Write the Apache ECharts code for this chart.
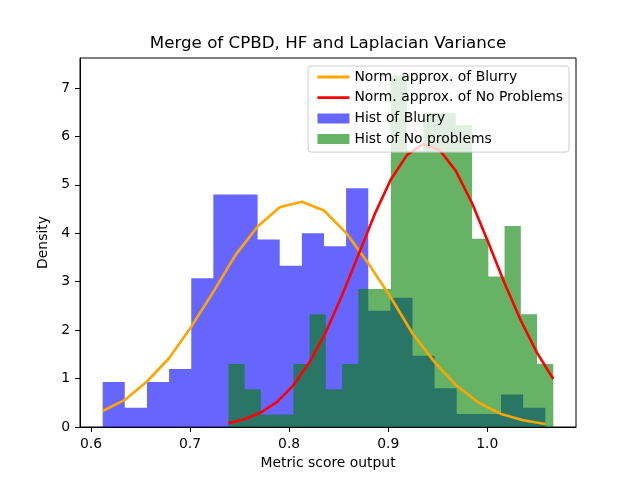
<!DOCTYPE html>
<html>
    <head>
        <meta charset="utf-8">
        <script src="https://cdn.jsdelivr.net/npm/echarts@6.0.0/dist/echarts.min.js"></script>
    </head>
    <body style="margin: 0;">
        <div id="main" style="width: 640px; height: 480px;"></div>
        <script>
            // bin edges and densities
            var blurryEdges = [0.6118, 0.6341, 0.6565, 0.6788, 0.7012, 0.7235, 0.7458, 0.7682, 0.7905, 0.8129, 0.8352,
                0.8575, 0.8799, 0.9022, 0.9246, 0.9469, 0.9692, 0.9916, 1.0139, 1.0363, 1.0586];
            var blurryDensity = [0.93, 0.40, 0.93, 1.20, 3.07, 4.80, 4.80, 3.87, 3.33, 4.00,
                3.73, 4.93, 2.40, 2.67, 1.47, 0.80, 0.27, 0.27, 0.67, 0.40];
            var blurryNorm = [0.33, 0.56, 0.94, 1.42, 2.07, 2.79, 3.55, 4.14, 4.54, 4.65, 4.47,
                4.01, 3.38, 2.69, 1.93, 1.34, 0.85, 0.50, 0.27, 0.14, 0.06];

            var okEdges = [0.7387, 0.7551, 0.7715, 0.7879, 0.8043, 0.8207, 0.8371, 0.8535, 0.8699, 0.8863, 0.9027,
                0.9191, 0.9355, 0.9519, 0.9683, 0.9847, 1.0011, 1.0175, 1.0339, 1.0503, 1.0667];
            var okDensity = [1.30, 0.78, 0.26, 0.26, 1.30, 2.33, 0.78, 1.30, 2.85, 2.85,
                7.26, 5.71, 6.49, 6.49, 6.23, 3.89, 3.11, 4.15, 2.33, 1.30];
            var okNorm = [0.08, 0.16, 0.30, 0.52, 0.86, 1.34, 1.96, 2.72, 3.55, 4.39, 5.11,
                5.62, 5.84, 5.72, 5.29, 4.62, 3.81, 2.97, 2.20, 1.53, 0.99];

            var xTicks = [0.6, 0.7, 0.8, 0.9, 1.0];
            var yTicks = [0, 1, 2, 3, 4, 5, 6, 7];

            var FONT = 'DejaVu Sans';

            function pairs(xs, ys) {
                return xs.map(function (x, i) { return [x, ys[i]]; });
            }
            // step outline: each bin holds its height until the next edge
            function steps(edges, dens) {
                var pts = dens.map(function (d, i) { return [edges[i], d]; });
                pts.push([edges[edges.length - 1], dens[dens.length - 1]]);
                return pts;
            }
            function histSeries(name, edges, dens, color) {
                return {
                    name: name,
                    type: 'line',
                    step: 'end',
                    symbol: 'none',
                    data: steps(edges, dens),
                    itemStyle: { color: color },
                    lineStyle: { width: 0, opacity: 0 },
                    areaStyle: { color: color, opacity: 1 },
                    z: 1
                };
            }
            function normSeries(name, xs, ys, color) {
                return {
                    name: name,
                    type: 'line',
                    symbol: 'none',
                    data: pairs(xs, ys),
                    itemStyle: { color: color },
                    lineStyle: { color: color, width: 2.6 },
                    z: 3
                };
            }

            var chart = echarts.init(document.getElementById('main'));
            var option = {
                animation: false,
                textStyle: { fontFamily: FONT },
                title: {
                    text: 'Merge of CPBD, HF and Laplacian Variance',
                    left: 323,
                    top: 30,
                    textAlign: 'center',
                    textStyle: { fontFamily: FONT, fontSize: 16.7, fontWeight: 'normal', color: '#000' }
                },
                legend: {
                    orient: 'vertical',
                    right: 71,
                    top: 66,
                    padding: [4, 6, 6, 8],
                    itemWidth: 32,
                    itemHeight: 10,
                    itemGap: 6.7,
                    backgroundColor: 'rgba(255,255,255,0.8)',
                    borderColor: '#cccccc',
                    borderWidth: 1,
                    borderRadius: 3,
                    textStyle: { fontFamily: FONT, fontSize: 13.9, color: '#000' },
                    data: [
                        { name: 'Norm. approx. of Blurry', itemStyle: { opacity: 0 }, lineStyle: { width: 2.8 } },
                        { name: 'Norm. approx. of No Problems', itemStyle: { opacity: 0 }, lineStyle: { width: 2.8 } },
                        { name: 'Hist of Blurry', icon: 'rect' },
                        { name: 'Hist of No problems', icon: 'rect' }
                    ]
                },
                grid: {
                    left: 80, right: 64, top: 58, bottom: 53,
                    show: true, borderColor: '#000', borderWidth: 1
                },
                xAxis: {
                    type: 'value',
                    min: 0.5889,
                    max: 1.0896,
                    name: 'Metric score output',
                    nameLocation: 'middle',
                    nameGap: 29,
                    nameTextStyle: { fontFamily: FONT, fontSize: 13.9, color: '#000' },
                    axisLine: { lineStyle: { color: '#000', width: 1 } },
                    axisTick: { customValues: xTicks, length: 5, lineStyle: { color: '#000' } },
                    axisLabel: {
                        customValues: xTicks,
                        margin: 10,
                        fontSize: 13.9,
                        color: '#000',
                        formatter: function (v) { return v.toFixed(1); }
                    },
                    splitLine: { show: false }
                },
                yAxis: {
                    type: 'value',
                    min: 0,
                    max: 7.62,
                    name: 'Density',
                    nameLocation: 'middle',
                    nameGap: 25,
                    nameTextStyle: { fontFamily: FONT, fontSize: 13.9, color: '#000' },
                    axisLine: { show: true, lineStyle: { color: '#000', width: 1 } },
                    axisTick: { show: true, customValues: yTicks, length: 5, lineStyle: { color: '#000' } },
                    axisLabel: { customValues: yTicks, margin: 10, fontSize: 13.9, color: '#000' },
                    splitLine: { show: false }
                },
                series: [
                    histSeries('Hist of Blurry', blurryEdges, blurryDensity, 'rgba(0,0,255,0.6)'),
                    histSeries('Hist of No problems', okEdges, okDensity, 'rgba(0,128,0,0.6)'),
                    normSeries('Norm. approx. of Blurry', blurryEdges, blurryNorm, '#ffa500'),
                    normSeries('Norm. approx. of No Problems', okEdges, okNorm, '#ff0000')
                ]
            };
            chart.setOption(option);
        </script>
    </body>
</html>
